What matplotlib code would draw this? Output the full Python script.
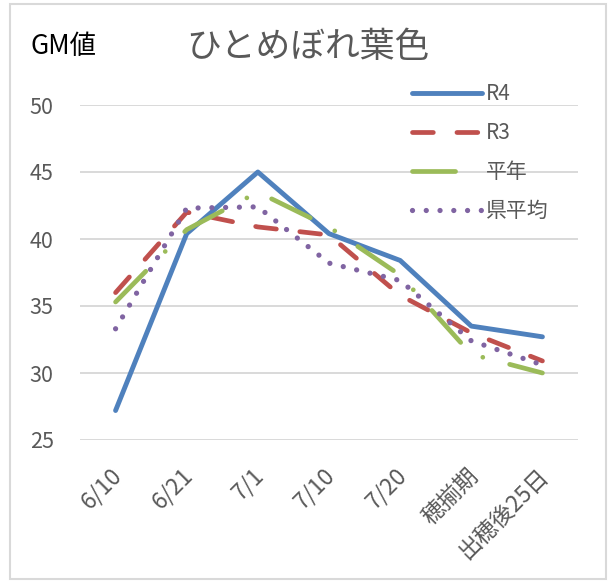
import matplotlib.pyplot as plt
import matplotlib as mpl
import matplotlib.transforms as mtrans
from matplotlib.patches import Rectangle

mpl.rcParams.update({
    "font.family": ["Noto Sans CJK JP", "DejaVu Sans"],
    "lines.scale_dashes": False,
})

categories = ["6/10", "6/21", "7/1", "7/10", "7/20", "穂揃期", "出穂後25日"]
r4 = [27.2, 40.4, 45.0, 40.4, 38.4, 33.5, 32.7]
r3 = [36.0, 42.0, 40.9, 40.3, 35.8, 33.0, 30.9]
heinen = [35.3, 40.7, 43.5, 40.9, 37.3, 31.4, 30.0]
ken_avg = [33.3, 42.3, 42.4, 38.2, 36.9, 32.4, 30.6]

# (values, color, linestyle, linewidth, label)
SERIES = [
    (r4,      "#4F81BD", "-",                      3.5, "R4"),
    (r3,      "#C0504D", (0, (15, 17)),            3.4, "R3"),
    (heinen,  "#9BBB59", (0, (31, 20, 0.01, 20)),  3.4, "平年"),
    (ken_avg, "#8064A2", (0, (0.01, 9.9)),         3.8, "県平均"),
]

GRAY = "#595959"

fig = plt.figure(figsize=(6.09, 5.82), dpi=100)
ax = fig.add_axes([80 / 609, 1 - 440 / 582, 498 / 609, 335 / 582])

x = list(range(len(categories)))
for vals, color, ls, lw, label in SERIES:
    ax.plot(x, vals, color=color, linestyle=ls, linewidth=lw, label=label,
            solid_capstyle="round", dash_capstyle="round",
            solid_joinstyle="round")

ax.set_xlim(-0.5, len(categories) - 0.5)
ax.set_ylim(25, 50)
ax.set_yticks([25, 30, 35, 40, 45, 50])
ax.set_xticks(x)
ax.set_xticklabels(categories, rotation=45, ha="right", va="center",
                   rotation_mode="anchor", color=GRAY, fontsize=16.5)
ax.tick_params(axis="both", length=0, labelcolor=GRAY)
ax.tick_params(axis="y", labelsize=15.5, pad=19)
ax.tick_params(axis="x", pad=23)
shift = mtrans.ScaledTranslation(3 / 100, 0, fig.dpi_scale_trans)
for lbl in ax.get_xticklabels():
    lbl.set_transform(lbl.get_transform() + shift)
ax.grid(axis="y", color="#d9d9d9", linewidth=1.4)
ax.set_axisbelow(True)
for s in ax.spines.values():
    s.set_visible(False)

leg = ax.legend(loc="upper left", bbox_to_anchor=(412 / 609, 1 - 83 / 582),
                bbox_transform=fig.transFigure, frameon=False,
                fontsize=15, handlelength=3.35, handletextpad=0.2,
                labelspacing=0.82, borderaxespad=0, borderpad=0)
for t in leg.get_texts():
    t.set_color(GRAY)

fig.text(308 / 609, 1 - 47 / 582, "ひとめぼれ葉色", fontsize=25,
         color=GRAY, ha="center", va="center")
fig.text(30 / 609, 1 - 47 / 582, "GM値", fontsize=19, color="black",
         ha="left", va="center")

fig.patches.append(Rectangle((10 / 609, 3 / 582), 596 / 609, 575 / 582,
                             transform=fig.transFigure, fill=False,
                             edgecolor="#d9d9d9", linewidth=1.5))

fig.savefig("out.png", dpi=100)
